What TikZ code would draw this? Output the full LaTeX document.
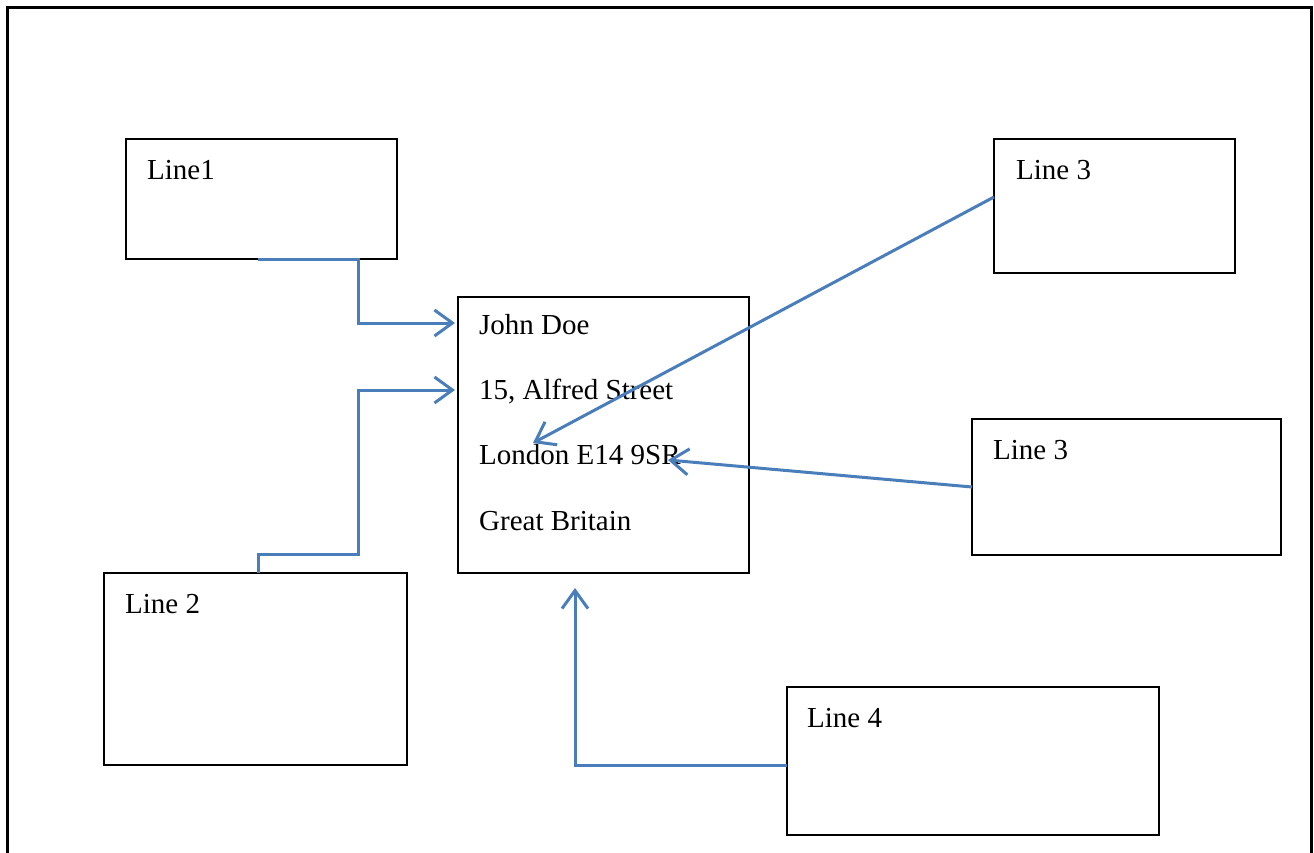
\documentclass[tikz,border=0pt]{standalone}
\usepackage{fontspec}
\setmainfont{Liberation Serif}
\usetikzlibrary{arrows.meta,calc}
\definecolor{conblue}{HTML}{4A7EBB}
\begin{document}
\begin{tikzpicture}[x=1pt,y=-1pt,
  box/.style={draw=black,line width=1.3pt,anchor=north west,inner sep=0pt,outer sep=0pt},
  txt/.style={anchor=base west,inner sep=0pt,font=\fontsize{29}{34}\selectfont},
  conn/.style={draw=conblue,line width=3pt,-{Straight Barb[length=18pt,width=26pt]}}]
\useasboundingbox (0,0) rectangle (1314,852);
\fill[white] (0,0) rectangle (1314,852);
% outer frame
\draw[line width=3pt] (7,853) -- (7,7) -- (1311,7) -- (1311,853);
% boxes
\node[box,minimum width=271pt,minimum height=120pt] (l1) at (126,139) {};
\node[box,minimum width=241pt,minimum height=134pt] (l3a) at (994,139) {};
\node[box,minimum width=291pt,minimum height=276pt] (c) at (458,297) {};
\node[box,minimum width=309pt,minimum height=136pt] (l3b) at (972,419) {};
\node[box,minimum width=303pt,minimum height=192pt] (l2) at (104,573) {};
\node[box,minimum width=372pt,minimum height=148pt] (l4) at (787,687) {};
% texts
\node[txt] (t1) at ($(l1.north west)+(21,40)$) {Line1};
\node[txt] (t3a) at ($(l3a.north west)+(22,40)$) {Line 3};
\node[txt] (t3b) at ($(l3b.north west)+(21,40)$) {Line 3};
\node[txt] (t2) at ($(l2.north west)+(21,40)$) {Line 2};
\node[txt] (t4) at ($(l4.north west)+(20,40)$) {Line 4};
\node[txt] (ca) at ($(c.north west)+(21,37)$) {John Doe};
\node[txt] (cb) at ($(c.north west)+(21,102.3)$) {15, Alfred Street};
\node[txt] (cc) at ($(c.north west)+(21,167.6)$) {London E14 9SR};
\node[txt] (cd) at ($(c.north west)+(21,233)$) {Great Britain};
% connectors
\draw[conn] ($(l1.south west)+(132,0)$) -| ($(c.north west)+(-100,26)$) -- ($(c.north west)+(-3,26)$);
\draw[conn] ($(l2.north west)+(154,0)$) -- ++(0,-19) -| ($(c.north west)+(-100,93)$) -- ($(c.north west)+(-3,93)$);
\draw[conn] ($(l3a.north west)+(0,58)$) -- ($(c.north west)+(75,146)$);
\draw[conn] (l3b.west) -- ($(c.north west)+(210,163)$);
\draw[conn] ($(l4.north west)+(0,78)$) -| ($(c.south west)+(117,15)$);
\end{tikzpicture}
\end{document}
